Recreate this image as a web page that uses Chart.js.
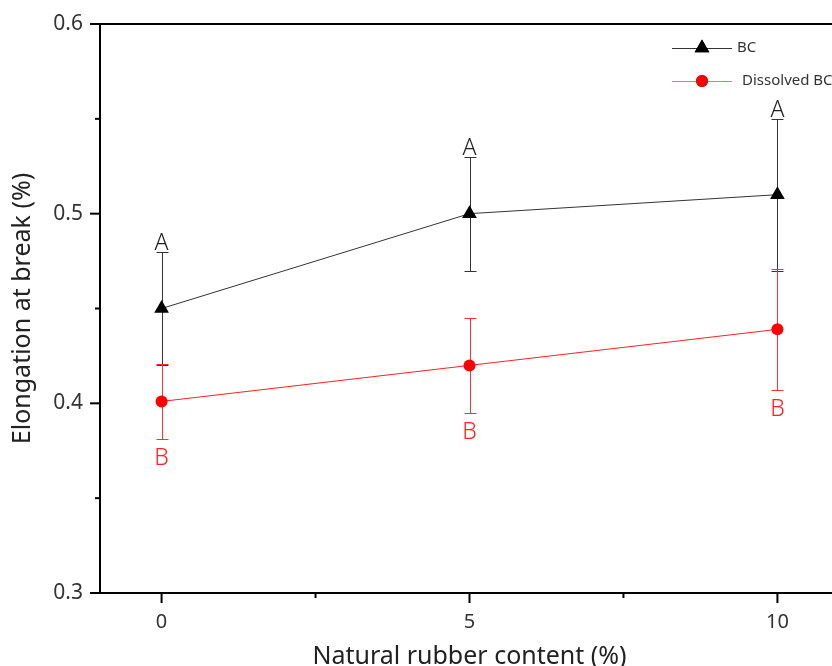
<!DOCTYPE html>
<html>
<head>
<meta charset="utf-8">
<style>
  html, body { margin: 0; padding: 0; background: #fff; overflow: hidden; }
  #wrap { width: 860px; height: 666px; }
</style>
<script src="https://cdn.jsdelivr.net/npm/chart.js@4/dist/chart.umd.min.js"></script>
</head>
<body>
<div id="wrap"><canvas id="chart" width="860" height="666"></canvas></div>
<script>
// Natural rubber content (%)
const contents = [0, 5, 10];
// Elongation at break (%) for plain BC and dissolved BC, with standard deviations
const bcValues = [0.45, 0.50, 0.51];
const bcErrors = [0.03, 0.03, 0.04];
const bcLetters = ['A', 'A', 'A'];
const dissolvedValues = [0.401, 0.42, 0.439];
const dissolvedErrors = [0.02, 0.025, 0.032];
const dissolvedLetters = ['B', 'B', 'B'];
const xTickLabels = [0, 5, 10];
const yTickLabels = [0.3, 0.4, 0.5, 0.6];

const FONT = '"Noto Sans", "Open Sans", sans-serif';
const TEXT = '#222';

const toPoints = (vals) => contents.map((x, i) => ({ x, y: vals[i] }));

// Error whiskers with caps, and significance letters above / below them
const errorBarPlugin = {
  id: 'errorBars',
  beforeDatasetsDraw(chart) {
    const { ctx } = chart;
    const xs = chart.scales.x, ys = chart.scales.y;
    chart.data.datasets.forEach(ds => {
      ctx.save();
      ctx.strokeStyle = ds.errorColor;
      ctx.lineWidth = 1;
      ds.data.forEach((p, i) => {
        const px = Math.round(xs.getPixelForValue(p.x)) + 0.5;
        const top = Math.round(ys.getPixelForValue(p.y + ds.errors[i])) + 0.5;
        const bot = Math.round(ys.getPixelForValue(p.y - ds.errors[i])) + 0.5;
        ctx.beginPath();
        ctx.moveTo(px, top); ctx.lineTo(px, bot);
        ctx.moveTo(px - 6, top); ctx.lineTo(px + 6, top);
        ctx.moveTo(px - 6, bot); ctx.lineTo(px + 6, bot);
        ctx.stroke();
      });
      ctx.restore();
    });
  },
  afterDatasetsDraw(chart) {
    const { ctx } = chart;
    const xs = chart.scales.x, ys = chart.scales.y;
    chart.data.datasets.forEach(ds => {
      ctx.save();
      ctx.fillStyle = ds.letterColor;
      ctx.font = '300 23px ' + FONT;
      ctx.textAlign = 'center';
      ctx.textBaseline = 'alphabetic';
      ds.data.forEach((p, i) => {
        const px = xs.getPixelForValue(p.x);
        if (ds.letterSide === 'above') {
          ctx.fillText(ds.letters[i], px, ys.getPixelForValue(p.y + ds.errors[i]) - 2);
        } else {
          ctx.fillText(ds.letters[i], px, ys.getPixelForValue(p.y - ds.errors[i]) + 26);
        }
      });
      ctx.restore();
    });
  }
};

// Frame, outward major/minor tick marks and the line+marker legend
const framePlugin = {
  id: 'frame',
  afterDraw(chart) {
    const { ctx, chartArea: a } = chart;
    const xs = chart.scales.x, ys = chart.scales.y;
    ctx.save();
    ctx.strokeStyle = '#000';
    ctx.lineWidth = 2;
    ctx.beginPath();
    ctx.moveTo(a.left, a.top); ctx.lineTo(a.right, a.top);
    ctx.lineTo(a.right, a.bottom); ctx.lineTo(a.left, a.bottom);
    ctx.closePath();
    ctx.stroke();

    // y ticks: major every 0.1, minor halfway
    for (let v = 0.3; v <= 0.6001; v += 0.05) {
      const py = ys.getPixelForValue(v);
      const major = Math.abs(v * 10 - Math.round(v * 10)) < 1e-6;
      ctx.beginPath();
      ctx.moveTo(a.left, py); ctx.lineTo(a.left - (major ? 10 : 5), py);
      ctx.stroke();
    }
    // x ticks: major every 5, minor halfway
    for (let v = 0; v <= 10.001; v += 2.5) {
      const px = xs.getPixelForValue(v);
      const major = Math.abs(v % 5) < 1e-6;
      ctx.beginPath();
      ctx.moveTo(px, a.bottom); ctx.lineTo(px, a.bottom + (major ? 10 : 5));
      ctx.stroke();
    }

    // legend
    const rows = [{ ds: chart.data.datasets[0], y: 48, tx: 737, line: '#333' },
                  { ds: chart.data.datasets[1], y: 81, tx: 742, line: '#ff7070' }];
    rows.forEach(r => {
      ctx.strokeStyle = r.line;
      ctx.lineWidth = 1;
      ctx.beginPath();
      ctx.moveTo(672, r.y + 0.5); ctx.lineTo(732, r.y + 0.5);
      ctx.stroke();
      Chart.helpers.drawPoint(ctx, {
        pointStyle: r.ds.pointStyle,
        radius: r.ds.pointRadius,
        borderWidth: 0
      }, 702, r.y);
      ctx.fillStyle = r.ds.pointBackgroundColor;
      ctx.fill();
      ctx.fillStyle = '#333';
      ctx.font = '15px ' + FONT;
      ctx.textAlign = 'left';
      ctx.textBaseline = 'middle';
      ctx.fillText(r.ds.label, r.tx, r.y);
    });
    ctx.restore();
  }
};

new Chart(document.getElementById('chart'), {
  type: 'line',
  data: {
    datasets: [
      {
        label: 'BC',
        data: toPoints(bcValues),
        errors: bcErrors,
        letters: bcLetters,
        letterSide: 'above',
        letterColor: '#222',
        errorColor: '#333',
        borderColor: '#333',
        borderWidth: 1,
        pointStyle: 'triangle',
        pointRadius: 8.5,
        pointBackgroundColor: '#000',
        pointBorderColor: '#000',
        pointBorderWidth: 0
      },
      {
        label: 'Dissolved BC',
        data: toPoints(dissolvedValues),
        errors: dissolvedErrors,
        letters: dissolvedLetters,
        letterSide: 'below',
        letterColor: '#ff2020',
        errorColor: '#ff3030',
        borderColor: '#ff2020',
        borderWidth: 1,
        pointStyle: 'circle',
        pointRadius: 6,
        pointBackgroundColor: '#ff0000',
        pointBorderColor: '#ff0000',
        pointBorderWidth: 0
      }
    ]
  },
  options: {
    responsive: false,
    animation: false,
    events: [],
    layout: { padding: { top: 24, right: 21, left: 0, bottom: 0 } },
    plugins: { legend: { display: false }, tooltip: { enabled: false } },
    scales: {
      x: {
        type: 'linear',
        min: -1,
        max: 11,
        afterFit: s => { s.height = 73; s.paddingLeft = 0; s.paddingRight = 0; },
        afterBuildTicks: s => { s.ticks = xTickLabels.map(v => ({ value: v })); },
        grid: { display: false, drawTicks: false },
        border: { display: false },
        ticks: {
          padding: 17,
          color: '#333',
          font: { family: FONT, size: 20 },
          maxRotation: 0
        },
        title: {
          display: true,
          text: 'Natural rubber content (%)',
          color: TEXT,
          font: { family: FONT, size: 25 },
          padding: { top: 6, bottom: -6 }
        }
      },
      y: {
        min: 0.3,
        max: 0.6,
        afterFit: s => { s.width = 100; s.paddingTop = 0; s.paddingBottom = 0; },
        afterBuildTicks: s => { s.ticks = yTickLabels.map(v => ({ value: v })); },
        grid: { display: false, drawTicks: false },
        border: { display: false },
        ticks: {
          padding: 17,
          color: '#333',
          font: { family: FONT, size: 21 },
          callback: v => v.toFixed(1)
        },
        title: {
          display: true,
          text: 'Elongation at break (%)',
          color: TEXT,
          font: { family: FONT, size: 25 },
          padding: { top: 8, bottom: 4 }
        }
      }
    }
  },
  plugins: [errorBarPlugin, framePlugin]
});
</script>
</body>
</html>
